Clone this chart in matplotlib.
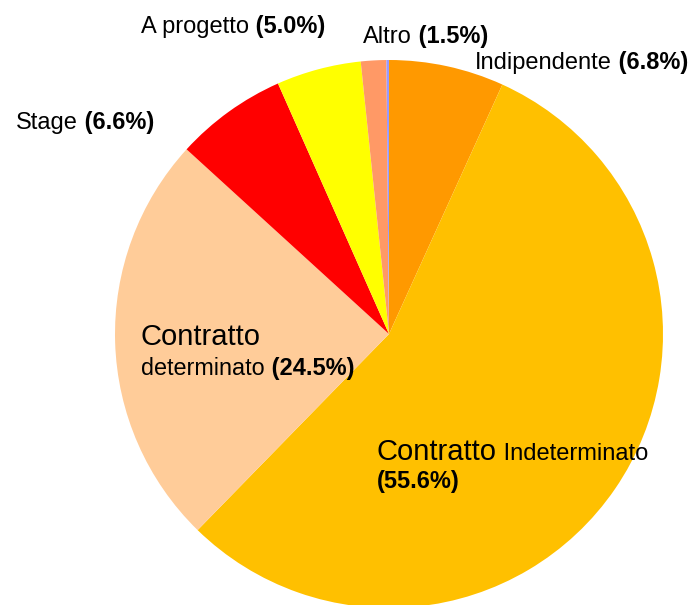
import matplotlib
matplotlib.use("Agg")
import matplotlib.pyplot as plt

categories = ["Indipendente", "Contratto Indeterminato", "Contratto determinato",
              "Stage", "A progetto", "Altro", ""]
values = [6.8, 55.6, 24.5, 6.6, 5.0, 1.5, 0.15]
colors = ["#FF9900", "#FFC000", "#FFCC99", "#FF0000", "#FFFF00", "#FF9966", "#9999FF"]
pct_labels = ["(6.8%)", "(55.6%)", "(24.5%)", "(6.6%)", "(5.0%)", "(1.5%)"]

W, H = 690, 605
fig = plt.figure(figsize=(W / 100, H / 100), dpi=100)
ax = fig.add_axes([0, 0, 1, 1])
ax.pie(values, colors=colors, startangle=90, counterclock=False,
       center=(389, H - 334), radius=274, wedgeprops=dict(linewidth=0))
ax.set_xlim(0, W)
ax.set_ylim(0, H)
ax.set_aspect("equal")
ax.axis("off")

FAM = "Liberation Sans"
renderer = fig.canvas.get_renderer()


def label(x, y, parts):
    """parts: list of (text, size, weight); y is pixel baseline from top."""
    for s, size, weight in parts:
        t = ax.text(x, H - y, s, fontsize=size, fontweight=weight,
                    family=FAM, ha="left", va="baseline", color="black")
        bb = t.get_window_extent(renderer)
        inv = ax.transData.inverted()
        x = inv.transform((bb.x1, bb.y0))[0]


label(475, 69, [("Indipendente", 17, "normal"), (" " + pct_labels[0], 17, "bold")])
label(363, 43, [("Altro", 17, "normal"), (" " + pct_labels[5], 17, "bold")])
label(141, 33, [("A progetto", 17, "normal"), (" " + pct_labels[4], 17, "bold")])
label(16, 129, [("Stage", 17, "normal"), (" " + pct_labels[3], 17, "bold")])
label(141, 345, [("Contratto", 21, "normal")])
label(141, 375, [("determinato", 16.8, "normal"), (" " + pct_labels[2], 17, "bold")])
label(377, 460, [("Contratto", 21, "normal"), (" Indeterminato", 17, "normal")])
label(377, 488, [(pct_labels[1], 17, "bold")])

fig.savefig("out.png", dpi=100)
